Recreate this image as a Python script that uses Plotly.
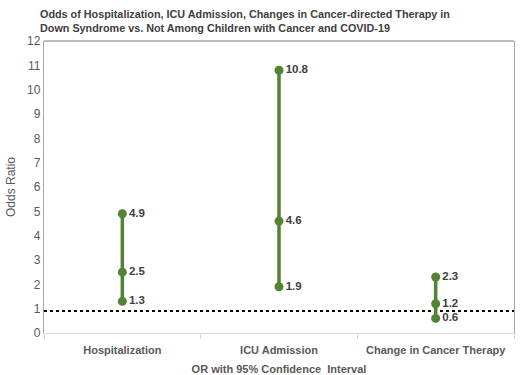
import plotly.graph_objects as go

categories = ["Hospitalization", "ICU Admission", "Change in Cancer Therapy"]
lower_ci = [1.3, 1.9, 0.6]
odds_ratio = [2.5, 4.6, 1.2]
upper_ci = [4.9, 10.8, 2.3]
reference_line = 0.9
y_ticks = list(range(0, 13))

green = "#548235"
gray_text = "#595959"
font_family = "Liberation Sans, Arial, sans-serif"

fig = go.Figure()
for cat, lo, est, hi in zip(categories, lower_ci, odds_ratio, upper_ci):
    ys = [lo, est, hi]
    fig.add_trace(go.Scatter(
        x=[cat, cat, cat], y=ys,
        mode="lines+markers+text",
        line=dict(color=green, width=3.5),
        marker=dict(color=green, size=9),
        text=[f"{v:.1f}" for v in ys],
        textposition="middle right",
        textfont=dict(family=font_family, size=11.5, color="#404040", weight="bold"),
        showlegend=False, cliponaxis=False, hoverinfo="y",
    ))

fig.add_hline(y=reference_line, line=dict(color="black", width=2, dash="dot"), layer="below")
# top border of plot frame
fig.add_shape(type="line", xref="paper", yref="paper", x0=0, x1=1, y0=1, y1=1,
              line=dict(color="#a6a6a6", width=1.3))

fig.update_layout(
    width=520, height=375,
    margin=dict(l=44, r=6, t=41, b=42, autoexpand=False),
    plot_bgcolor="white", paper_bgcolor="white",
    font=dict(family=font_family, color=gray_text),
    title=dict(
        text="<b>Odds of Hospitalization, ICU Admission, Changes in Cancer-directed Therapy in<br>Down Syndrome vs. Not Among Children with Cancer and COVID-19</b>",
        x=40 / 520, xref="container", xanchor="left", y=1 - 18 / 375, yanchor="middle", yref="container",
        font=dict(size=10.8, color="#404040", family=font_family),
        automargin=False,
    ),
    xaxis=dict(
        type="category", categoryarray=categories, range=[-0.5, 2.5],
        showline=True, linecolor="#d9d9d9", linewidth=1,
        ticks="outside", tickson="boundaries", ticklen=5, tickcolor="#d9d9d9",
        ticklabelstandoff=7,
        showgrid=False, zeroline=False, tickangle=0, automargin=False,
        tickfont=dict(size=11, color=gray_text, weight="bold"),
        title=dict(text="<b>OR with 95% Confidence  Interval</b>", font=dict(size=11, color=gray_text), standoff=10),
    ),
    yaxis=dict(
        range=[0, 12], tickvals=y_ticks, showgrid=False, zeroline=False,
        showline=True, linecolor="#a6a6a6", linewidth=1.3, mirror=True,
        ticks="", tickfont=dict(size=12, color=gray_text), automargin=False,
        title=dict(text="Odds Ratio", font=dict(size=12, color=gray_text), standoff=8),
    ),
)

fig.write_html("out.html", config={"displayModeBar": False},
               post_script="document.body.style.margin='0';")
